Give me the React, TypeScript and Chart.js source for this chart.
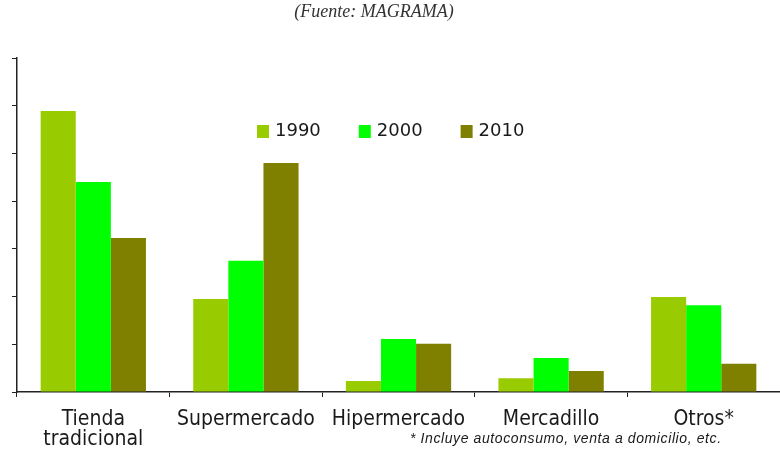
import React, { useEffect, useRef } from "react";
import { Chart, registerables } from "chart.js";

Chart.register(...registerables);

const categories: (string | string[])[] = [["Tienda", "tradicional"], "Supermercado", "Hipermercado", "Mercadillo", "Otros*"];
const seriesLabels = ["1990", "2000", "2010"];
const values1990 = [58.9, 19.5, 2.3, 2.9, 19.9];
const values2000 = [44.0, 27.5, 11.1, 7.1, 18.2];
const values2010 = [32.3, 48.0, 10.1, 4.4, 5.9];
const seriesColors = ["#99CC00", "#00FF00", "#808000"];
const yMin = 0;
const yMax = 70;
const yStep = 10;
const sourceText = "(Fuente: MAGRAMA)";
const footnoteText = "* Incluye autoconsumo, venta a domicilio, etc.";

const FONT = "'DejaVu Sans', Verdana, sans-serif";
const LABEL_FONT = "'DejaVu Sans Condensed', 'DejaVu Sans', sans-serif";

const legendPlugin = {
  id: "innerLegend",
  afterDraw(chart: any) {
    const ctx = chart.ctx;
    ctx.save();
    ctx.font = `18px ${FONT}`;
    ctx.textBaseline = "middle";
    ctx.textAlign = "left";
    let x = 257;
    const yc = 131;
    chart.data.datasets.forEach((ds: any) => {
      ctx.fillStyle = ds.backgroundColor;
      ctx.fillRect(x, yc - 6, 12, 13);
      ctx.fillStyle = "#1a1a1a";
      ctx.fillText(ds.label, x + 18, yc);
      x += 18 + ctx.measureText(ds.label).width + 38;
    });
    ctx.restore();
  },
};

export default function App() {
  const ref = useRef<HTMLCanvasElement | null>(null);
  useEffect(() => {
    if (!ref.current) return;
    const datasets = [values1990, values2000, values2010].map((d, i) => ({
      label: seriesLabels[i],
      data: d,
      backgroundColor: seriesColors[i],
      borderWidth: 0,
      barPercentage: 1,
      categoryPercentage: 0.69,
    }));
    const chart = new Chart(ref.current, {
      type: "bar",
      data: { labels: categories, datasets },
      options: {
        animation: false,
        responsive: false,
        devicePixelRatio: 1,
        layout: { padding: { left: 0, top: 58, right: -6, bottom: 0 } },
        plugins: { legend: { display: false }, title: { display: false }, tooltip: { enabled: false } },
        scales: {
          x: {
            grid: { display: true, drawOnChartArea: false, drawTicks: true, tickLength: 5, color: "#222", offset: true },
            border: { display: true, color: "#222", width: 1.5 },
            ticks: { color: "#1a1a1a", font: { family: LABEL_FONT, size: 21, lineHeight: 0.95 }, padding: 13, maxRotation: 0, autoSkip: false },
            afterFit: (s: any) => { s.height = 59; },
          },
          y: {
            min: yMin,
            max: yMax,
            grid: { display: true, drawOnChartArea: false, drawTicks: true, tickLength: 5, color: "#222" },
            border: { display: true, color: "#222", width: 1.5 },
            ticks: { display: false, stepSize: yStep },
            afterFit: (s: any) => { s.width = 17; },
          },
        },
      },
      plugins: [legendPlugin],
    });
    return () => chart.destroy();
  }, []);
  return (
    <div style={{ position: "fixed", left: 0, top: 0, width: 780, height: 451, background: "#fff" }}>
      <canvas ref={ref} width={780} height={451} style={{ position: "absolute", left: 0, top: 0, width: 780, height: 451 }} />
      <div style={{ position: "absolute", left: 0, width: 748, top: 1, textAlign: "center", fontFamily: "'Liberation Serif', serif", fontStyle: "italic", fontSize: 18, color: "#333" }}>
        {sourceText}
      </div>
      <div style={{ position: "absolute", left: 410, top: 430, fontFamily: "'Liberation Sans', Arial, sans-serif", fontStyle: "italic", fontSize: 14, letterSpacing: 0.6, color: "#1a1a1a", whiteSpace: "nowrap" }}>
        {footnoteText}
      </div>
    </div>
  );
}
